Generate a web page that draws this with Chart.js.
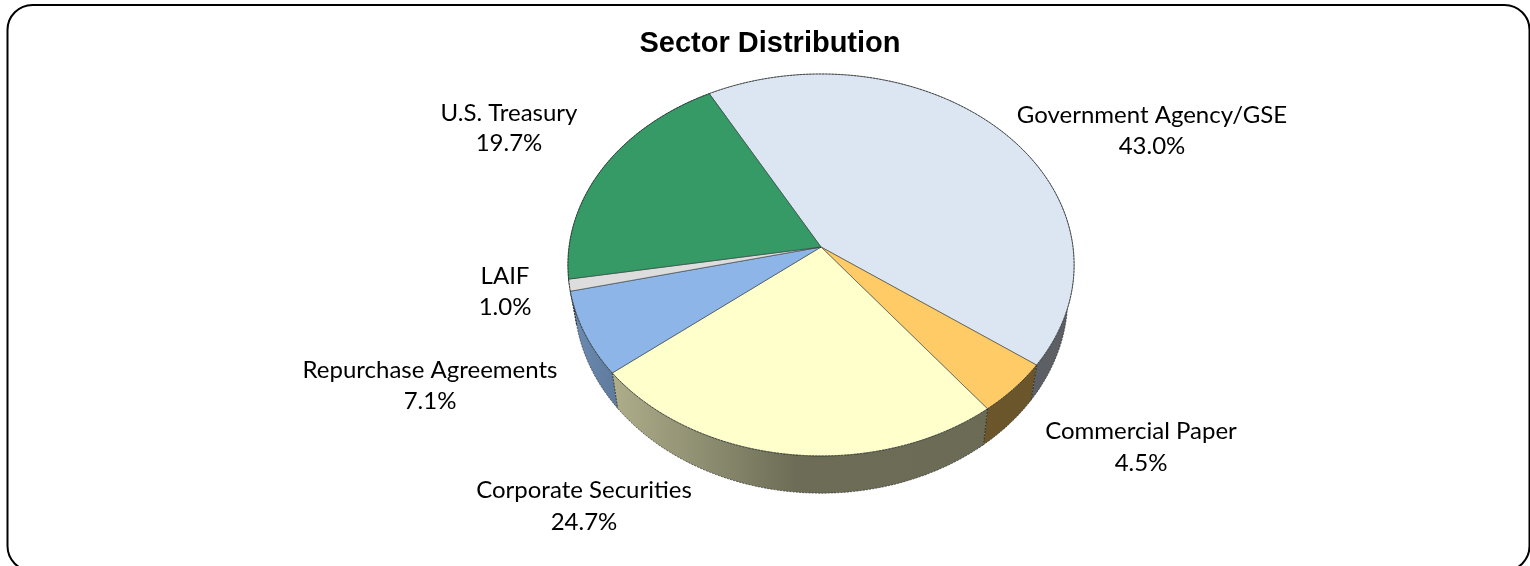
<!DOCTYPE html>
<html><head><meta charset="utf-8">
<style>html,body{margin:0;padding:0;background:#fff;overflow:hidden}canvas{display:block}</style>
<script src="https://cdn.jsdelivr.net/npm/chart.js@4"></script>
</head><body>
<canvas id="c" width="1530" height="566" style="width:1530px;height:566px"></canvas>
<script>
const categories = ["Government Agency/GSE","Commercial Paper","Corporate Securities","Repurchase Agreements","LAIF","U.S. Treasury"];
const shares = [43.0,4.5,24.7,7.1,1.0,19.7];
const sliceColors = ["#DCE6F2","#FFCB66","#FFFFCC","#8DB5E8","#DDDDDD","#359A66"];
const chartTitle = "Sector Distribution";

// picture layout
const apex = {x:821,y:247};
const persp = {a:252,c:189.3,k:-0.094};
const wall = {sx:0.975,sy:1.025,dy:32};
const labelBoxes = [[1152,115,146],[1141,431,463],[584,490,522],[430,370,401],[505,276,307],[509,113,143]];

function rim(t){ // t: chart.js angle; projects the flat pie rim into the tilted view
  const u=Math.cos(t), v=Math.sin(t), d=1+persp.k*v;
  return [persp.a*u/d, persp.c*v/d];
}
function rimPts(s,e){
  const n=Math.max(4,Math.ceil((e-s)*90)),p=[];
  for(let i=0;i<=n;i++)p.push(rim(s+(e-s)*i/n));
  return p;
}
function shade(hex,f){
  const n=parseInt(hex.slice(1),16);
  return `rgb(${(n>>16&255)*f|0},${(n>>8&255)*f|0},${(n&255)*f|0})`;
}
const piePlugin = {
  id:'tiltedPie',
  beforeDraw(chart){
    const ctx=chart.ctx;
    ctx.save();ctx.fillStyle='#fff';ctx.fillRect(0,0,chart.width,chart.height);
    ctx.beginPath();ctx.roundRect(7.5,5,1522,566,25);
    ctx.strokeStyle='#000';ctx.lineWidth=2;ctx.stroke();ctx.restore();
  },
  beforeDatasetDraw(chart,args){
    const ctx=chart.ctx, arcs=args.meta.data;
    ctx.save();
    ctx.translate(apex.x,apex.y);
    const low=p=>[p[0]*wall.sx,p[1]*wall.sy+wall.dy];
    arcs.forEach((el,i)=>{
      const pts=rimPts(el.startAngle,el.endAngle), col=el.options.backgroundColor;
      const g=ctx.createLinearGradient(-252,0,253,0);
      g.addColorStop(0,shade(col,0.78));g.addColorStop(0.09,shade(col,0.68));
      g.addColorStop(0.45,shade(col,0.43));g.addColorStop(1,shade(col,0.42));
      ctx.beginPath();
      pts.forEach((p,j)=>j?ctx.lineTo(p[0],p[1]):ctx.moveTo(p[0],p[1]));
      [...pts].reverse().forEach(p=>{const q=low(p);ctx.lineTo(q[0],q[1]);});
      ctx.closePath();ctx.fillStyle=g;ctx.fill();
      ctx.setLineDash([2,1.2]);ctx.lineWidth=0.8;ctx.strokeStyle='rgba(30,30,30,.75)';
      ctx.beginPath();
      pts.forEach((p,j)=>{const q=low(p);j?ctx.lineTo(q[0],q[1]):ctx.moveTo(q[0],q[1]);});
      ctx.stroke();
      [pts[0],pts[pts.length-1]].forEach(p=>{
        if(p[1]>0){const q=low(p);ctx.beginPath();ctx.moveTo(p[0],p[1]);ctx.lineTo(q[0],q[1]);ctx.stroke();}
      });
      ctx.setLineDash([]);
    });
    arcs.forEach(el=>{
      const pts=rimPts(el.startAngle,el.endAngle);
      ctx.beginPath();ctx.moveTo(0,0);
      pts.forEach(p=>ctx.lineTo(p[0],p[1]));
      ctx.closePath();ctx.fillStyle=el.options.backgroundColor;ctx.fill();
      ctx.lineWidth=0.8;ctx.strokeStyle='rgba(50,60,60,.75)';ctx.stroke();
      ctx.setLineDash([2,1.2]);ctx.strokeStyle='rgba(30,30,30,.7)';
      ctx.beginPath();pts.forEach((p,j)=>j?ctx.lineTo(p[0],p[1]):ctx.moveTo(p[0],p[1]));ctx.stroke();
      ctx.setLineDash([]);
    });
    ctx.restore();
    return false;
  },
  afterDatasetsDraw(chart){
    const ctx=chart.ctx, data=chart.data.datasets[0].data;
    ctx.save();ctx.font='24px Lato';ctx.fillStyle='#000';ctx.textAlign='center';ctx.textBaseline='middle';
    chart.data.labels.forEach((name,i)=>{
      const b=labelBoxes[i];
      ctx.fillText(name,b[0],b[1]);
      ctx.fillText(data[i].toFixed(1)+'%',b[0],b[2]);
    });
    ctx.restore();
  }
};
new Chart(document.getElementById('c'),{
  type:'pie',
  data:{labels:categories,datasets:[{data:shares,backgroundColor:sliceColors,borderWidth:0}]},
  options:{
    responsive:false,animation:false,devicePixelRatio:1,rotation:331.3,
    layout:{padding:{left:10}},
    plugins:{
      legend:{display:false},tooltip:{enabled:false},
      title:{display:true,text:chartTitle,color:'#000',font:{family:'"Liberation Sans"',size:29,weight:'bold'},padding:{top:27,bottom:10}}
    }
  },
  plugins:[piePlugin]
});
</script>
</body></html>
